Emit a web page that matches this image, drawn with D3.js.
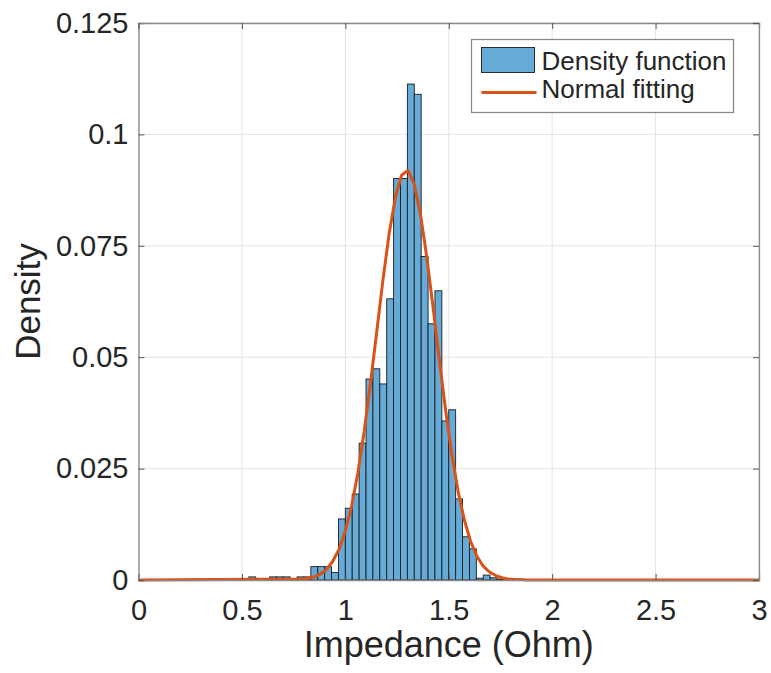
<!DOCTYPE html>
<html>
<head>
<meta charset="utf-8">
<script src="https://cdn.jsdelivr.net/npm/d3@7"></script>
<style>
  body { margin: 0; background: #fff; }
  svg text { font-family: "Liberation Sans", Arial, Helvetica, sans-serif; fill: #262626; }
</style>
</head>
<body>
<script>
// histogram bins (left edge, width 1/30) and density per bin
var binWidth = 1 / 30;
var binStarts = [0.5, 0.5333, 0.5667, 0.6, 0.6333, 0.6667, 0.7, 0.7333, 0.7667, 0.8,
                 0.8333, 0.8667, 0.9, 0.9333, 0.9667, 1.0, 1.0333, 1.0667, 1.1, 1.1333,
                 1.1667, 1.2, 1.2333, 1.2667, 1.3, 1.3333, 1.3667, 1.4, 1.4333, 1.4667,
                 1.5, 1.5333, 1.5667, 1.6, 1.6333, 1.6667, 1.7, 1.7333];
var density = [0, 0.0007, 0, 0, 0.0007, 0.0007, 0.0007, 0, 0.0007, 0.0007,
               0.0030, 0.0030, 0.0030, 0.0017, 0.0137, 0.0161, 0.0193, 0.0307, 0.0451, 0.0474,
               0.0440, 0.0631, 0.0901, 0.0901, 0.1113, 0.1090, 0.0726, 0.0575, 0.0649, 0.0357,
               0.0382, 0.0182, 0.0097, 0.0070, 0.0004, 0.0011, 0.0005, 0.0002];

var fitX = [0, 0.7879, 0.8182, 0.8485, 0.8788, 0.9091, 0.9394, 0.9697, 1.0, 1.0303,
            1.0606, 1.0909, 1.1212, 1.1515, 1.1818, 1.2121, 1.2424, 1.2727, 1.3030, 1.3333,
            1.3636, 1.3939, 1.4242, 1.4545, 1.4848, 1.5152, 1.5455, 1.5758, 1.6061, 1.6364,
            1.6667, 1.6970, 1.7273, 1.7576, 1.7879, 1.8182, 1.8485, 1.8788, 3];
var fitY = [0, 0.0002, 0.0004, 0.0007, 0.0013, 0.0024, 0.0042, 0.0069, 0.0110, 0.0166,
            0.0240, 0.0332, 0.0440, 0.0556, 0.0673, 0.0778, 0.0860, 0.0909, 0.0919, 0.0888,
            0.0820, 0.0724, 0.0612, 0.0494, 0.0381, 0.0281, 0.0198, 0.0134, 0.0086, 0.0053,
            0.0031, 0.0018, 0.0010, 0.0005, 0.0002, 0.0001, 0.0001, 0, 0];

var xTicks = [0, 0.5, 1, 1.5, 2, 2.5, 3];
var yTicks = [0, 0.025, 0.05, 0.075, 0.1, 0.125];
var legendLabels = ["Density function", "Normal fitting"];

var W = 771, H = 673;
var margin = {top: 23, right: 12, bottom: 93, left: 138.5};
var width = W - margin.left - margin.right,
    height = H - margin.top - margin.bottom;

var svg = d3.select("body").append("svg")
    .attr("width", W)
    .attr("height", H);

var g = svg.append("g")
    .attr("transform", "translate(" + margin.left + "," + margin.top + ")");

var x = d3.scaleLinear().domain([0, 3]).range([0, width]);
var y = d3.scaleLinear().domain([0, 0.125]).range([height, 0]);

// grid
g.append("g").selectAll("line").data(xTicks).enter().append("line")
    .attr("x1", function(d) { return x(d); }).attr("x2", function(d) { return x(d); })
    .attr("y1", 0).attr("y2", height)
    .attr("stroke", "#e3e3e3").attr("stroke-width", 1);
g.append("g").selectAll("line").data(yTicks).enter().append("line")
    .attr("y1", function(d) { return y(d); }).attr("y2", function(d) { return y(d); })
    .attr("x1", 0).attr("x2", width)
    .attr("stroke", "#e3e3e3").attr("stroke-width", 1);

// bars
var bins = binStarts.map(function(s, i) { return {x0: s, x1: s + binWidth, v: density[i]}; })
    .filter(function(d) { return d.v > 0; });
g.append("g").selectAll("rect").data(bins).enter().append("rect")
    .attr("x", function(d) { return x(d.x0); })
    .attr("width", function(d) { return x(d.x1) - x(d.x0); })
    .attr("y", function(d) { return y(d.v); })
    .attr("height", function(d) { return y(0) - y(d.v); })
    .attr("fill", "#66aad7")
    .attr("stroke", "#1c1c1c")
    .attr("stroke-width", 0.9);

// fit line
var fit = fitX.map(function(v, i) { return [v, fitY[i]]; });
g.append("path")
    .datum(fit)
    .attr("fill", "none")
    .attr("stroke", "#d95319")
    .attr("stroke-width", 3)
    .attr("stroke-linejoin", "round")
    .attr("d", d3.line().x(function(d) { return x(d[0]); }).y(function(d) { return y(d[1]); }));

// axes (inward ticks, box on all sides)
var fmt = function(d) { return String(d); };
var axBottom = g.append("g").attr("transform", "translate(0," + height + ")")
    .call(d3.axisBottom(x).tickValues(xTicks).tickFormat(fmt).tickSize(-6).tickPadding(19));
var axLeft = g.append("g")
    .call(d3.axisLeft(y).tickValues(yTicks).tickFormat(fmt).tickSize(-6).tickPadding(10));
var axTop = g.append("g")
    .call(d3.axisTop(x).tickValues(xTicks).tickFormat("").tickSize(-6));
var axRight = g.append("g").attr("transform", "translate(" + width + ",0)")
    .call(d3.axisRight(y).tickValues(yTicks).tickFormat("").tickSize(-6));

[axBottom, axLeft, axTop, axRight].forEach(function(a) {
    a.selectAll("path.domain").attr("stroke", "#8a8a8a").attr("stroke-width", 1.3);
    a.selectAll(".tick line").attr("stroke", "#555").attr("stroke-width", 1);
    a.selectAll("text").style("font-size", "29px").attr("fill", "#2b2b2b");
});

// axis labels
svg.append("text")
    .attr("x", margin.left + width / 2)
    .attr("y", 657)
    .attr("text-anchor", "middle")
    .style("font-size", "36px")
    .text("Impedance (Ohm)");
svg.append("text")
    .attr("transform", "translate(40," + (margin.top + height / 2) + ") rotate(-90)")
    .attr("text-anchor", "middle")
    .style("font-size", "35px")
    .text("Density");

// legend
var lg = svg.append("g").attr("transform", "translate(471.5,39.5)");
lg.append("rect")
    .attr("width", 262).attr("height", 73)
    .attr("fill", "#fff").attr("stroke", "#8a8a8a").attr("stroke-width", 1.3);
lg.append("rect")
    .attr("x", 10).attr("y", 8).attr("width", 53).attr("height", 25)
    .attr("fill", "#66aad7").attr("stroke", "#1c1c1c").attr("stroke-width", 0.9);
lg.append("line")
    .attr("x1", 10).attr("x2", 65).attr("y1", 53).attr("y2", 53)
    .attr("stroke", "#d95319").attr("stroke-width", 3);
lg.selectAll("text.lbl").data(legendLabels).enter().append("text")
    .attr("class", "lbl")
    .attr("x", 70)
    .attr("y", function(d, i) { return 30 + i * 28; })
    .style("font-size", "26px")
    .text(function(d) { return d; });
</script>
</body>
</html>
